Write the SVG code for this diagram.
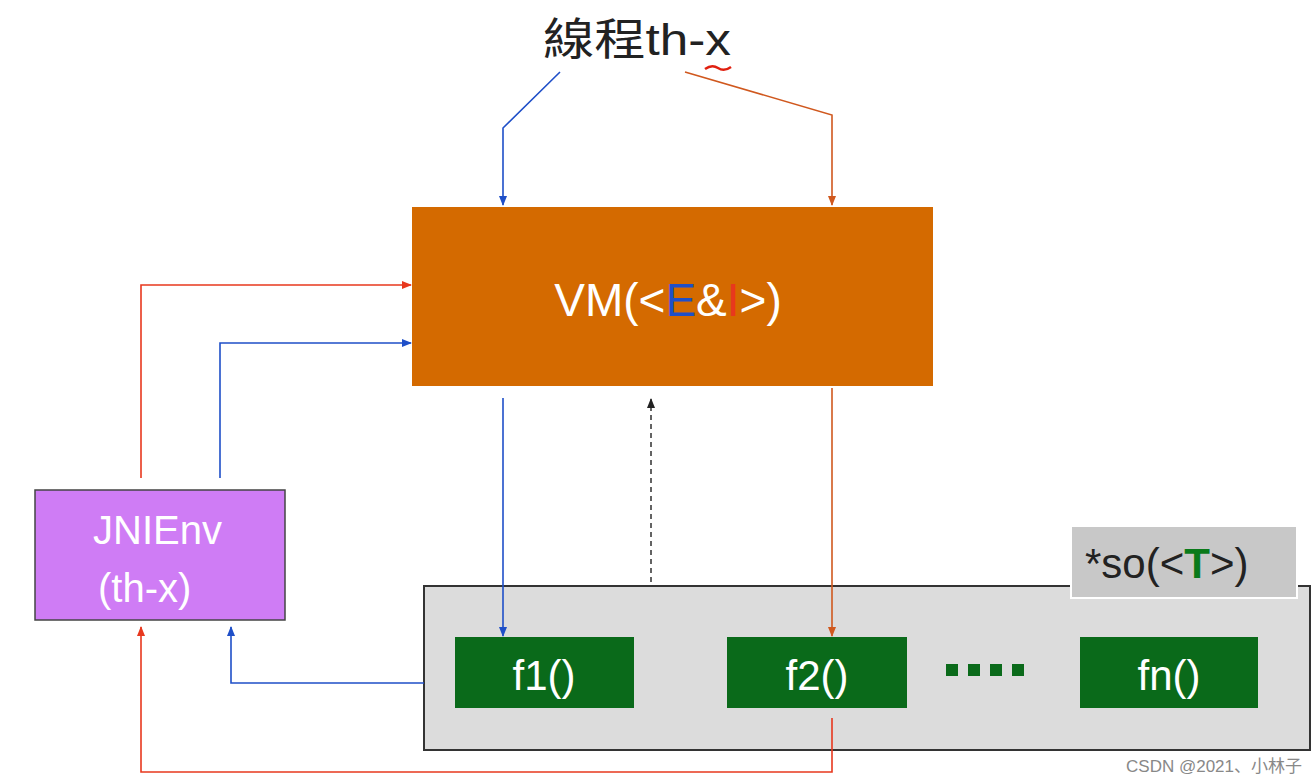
<svg xmlns="http://www.w3.org/2000/svg" width="1316" height="784" viewBox="0 0 1316 784">
<style>
.t{font-family:"Liberation Sans","Noto Sans CJK TC",sans-serif;fill:#fff}
.b{stroke:#1f4fc8;stroke-width:1.6;fill:none}
.r{stroke:#e8381e;stroke-width:1.6;fill:none}
.o{stroke:#d0581e;stroke-width:1.6;fill:none}
.g{fill:#0a6a1a}
</style>
<defs>
<marker id="ab" markerWidth="10" markerHeight="10" refX="9" refY="5" orient="auto" markerUnits="userSpaceOnUse"><path d="M0,1 L10,5 L0,9 z" fill="#1f4fc8"/></marker>
<marker id="ar" markerWidth="10" markerHeight="10" refX="9" refY="5" orient="auto" markerUnits="userSpaceOnUse"><path d="M0,1 L10,5 L0,9 z" fill="#e8381e"/></marker>
<marker id="ao" markerWidth="10" markerHeight="10" refX="9" refY="5" orient="auto" markerUnits="userSpaceOnUse"><path d="M0,1 L10,5 L0,9 z" fill="#d0581e"/></marker>
<marker id="ak" markerWidth="10" markerHeight="10" refX="9" refY="5" orient="auto" markerUnits="userSpaceOnUse"><path d="M0,1 L10,5 L0,9 z" fill="#222"/></marker>
</defs>
<rect width="1316" height="784" fill="#fff"/>
<g id="title"><text x="543" y="55" font-size="44" textLength="188" lengthAdjust="spacingAndGlyphs" font-family="Liberation Sans,Noto Sans CJK TC,sans-serif" fill="#222">線程th-x</text>
<path d="M705,69 Q712,64 718,68 T731,67" stroke="#e02010" stroke-width="2.5" fill="none"/></g>
<g id="so-group"><rect x="424" y="586" width="886" height="164" fill="#dcdcdc" stroke="#333" stroke-width="2"/></g>
<g id="so-label"><rect x="1071" y="526" width="226" height="72" fill="#c8c8c8" stroke="#fff" stroke-width="2"/>
<text x="1085" y="578" font-size="42" class="t" style="fill:#222">*so(&lt;<tspan font-weight="bold" fill="#0a7a1a">T</tspan>&gt;)</text></g>
<g id="vm"><rect x="412" y="207" width="521" height="179" fill="#d46a00"/>
<text x="668" y="316" font-size="46" text-anchor="middle" class="t">VM(&lt;<tspan fill="#1f4fc8">E</tspan>&amp;<tspan fill="#e8381e">I</tspan>&gt;)</text></g>
<g id="jnienv"><rect x="35" y="490" width="250" height="130" fill="#cf7cf5" stroke="#444" stroke-width="1.5"/>
<text x="93" y="544" font-size="40" class="t">JNIEnv</text><text x="98" y="602" font-size="40" class="t">(th-x)</text></g>
<g id="f1"><rect x="455" y="637" width="179" height="71" class="g"/><text x="544" y="690" font-size="42" text-anchor="middle" class="t">f1()</text></g>
<g id="f2"><rect x="727" y="637" width="180" height="71" class="g"/><text x="817" y="690" font-size="42" text-anchor="middle" class="t">f2()</text></g>
<g id="fn"><rect x="1080" y="637" width="178" height="71" class="g"/><text x="1169" y="690" font-size="42" text-anchor="middle" class="t">fn()</text></g>
<g id="dots" class="g"><rect x="946" y="664" width="12" height="12"/><rect x="968" y="664" width="12" height="12"/><rect x="990" y="664" width="12" height="12"/><rect x="1012" y="664" width="12" height="12"/></g>
<g id="connectors">
<path class="b" d="M560,72 L503,128 L503,205" marker-end="url(#ab)"/>
<path class="o" d="M685,72 L832,115 L832,205" marker-end="url(#ao)"/>
<path class="r" d="M141,478 L141,285 L411,285" marker-end="url(#ar)"/>
<path class="b" d="M220,478 L220,343 L411,343" marker-end="url(#ab)"/>
<path class="b" d="M503,398 L503,636" marker-end="url(#ab)"/>
<path class="o" d="M832,388 L832,636" marker-end="url(#ao)"/>
<path d="M651,582 L651,399" stroke="#222" stroke-width="1.4" stroke-dasharray="5,4" fill="none" marker-end="url(#ak)"/>
<path class="b" d="M424,683 L231,683 L231,627" marker-end="url(#ab)"/>
<path class="r" d="M832,718 L832,772 L141,772 L141,627" marker-end="url(#ar)"/>
</g>
<text x="1302" y="772" font-size="17" text-anchor="end" font-family="Liberation Sans,Noto Sans CJK SC,sans-serif" fill="#888">CSDN @2021、小林子</text>
</svg>
